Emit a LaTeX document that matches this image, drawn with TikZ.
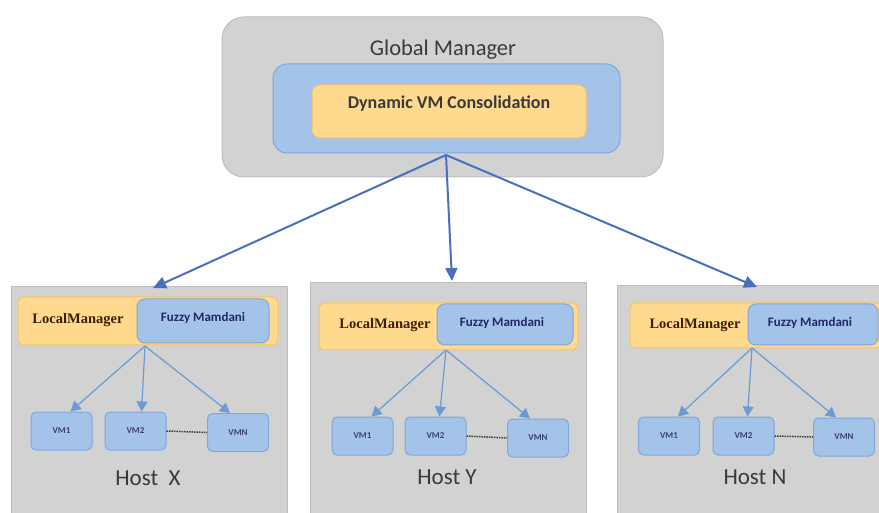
\documentclass[tikz,border=0pt]{standalone}
\usepackage{fontspec}
\setmainfont{Carlito}
\newfontfamily\lmserif{Liberation Serif}
\usetikzlibrary{arrows.meta}
\definecolor{grayfill}{HTML}{D2D2D2}
\definecolor{grayedge}{HTML}{BDBDBD}
\definecolor{bluefill}{HTML}{A3C3E9}
\definecolor{blueedge}{HTML}{7FA7D8}
\definecolor{orfill}{HTML}{FFD98E}
\definecolor{oredge}{HTML}{F2C46C}
\definecolor{mainarrow}{HTML}{4A6FC0}
\definecolor{subarrow}{HTML}{6A9BD4}
\definecolor{txt}{HTML}{3A3A3A}
\tikzset{
  graybox/.style={draw=grayedge, fill=grayfill, line width=1pt, inner sep=0pt},
  bluebox/.style={draw=blueedge, fill=bluefill, line width=1pt, inner sep=0pt, rounded corners=8pt},
  orbox/.style={draw=oredge, fill=orfill, line width=1pt, inner sep=0pt, rounded corners=6pt},
  vmbox/.style={draw=blueedge, fill=bluefill, line width=1pt, inner sep=0pt, rounded corners=5pt,
    minimum width=61pt, minimum height=38pt, font=\bfseries\fontsize{9}{9}\selectfont, text=blue!25!black!75},
  mainarr/.style={draw=mainarrow, line width=2pt, -{Triangle[length=13pt,width=12pt]}},
  subarr/.style={draw=subarrow, line width=1.2pt, -{Triangle[length=10pt,width=11pt]}},
  dots/.style={draw=txt, line width=1.5pt, dash pattern=on 1.5pt off 1pt},
  lmtext/.style={font=\lmserif\bfseries\fontsize{14.5}{14.5}\selectfont, text=black!60!orange!60!black},
  fztext/.style={font=\bfseries\fontsize{13}{13}\selectfont, text=blue!30!black!85},
  hosttext/.style={font=\fontsize{23}{23}\selectfont, text=txt},
}
\begin{document}
\begin{tikzpicture}[x=1pt,y=-1pt]
\useasboundingbox (0,0) rectangle (879,513);
\begin{scope}
\clip (0,0) rectangle (879,513);
% Global manager
\node[graybox, rounded corners=22pt, minimum width=441pt, minimum height=160pt] (gm) at (442.5,97) {};
\node[font=\fontsize{22.5}{22.5}\selectfont, text=txt] (gmt) at (443,50) {Global Manager};
\node[bluebox, rounded corners=14pt, minimum width=347pt, minimum height=89pt] (gmb) at (446.5,108.5) {};
\node[orbox, rounded corners=8pt, minimum width=274pt, minimum height=53pt] (dvc) at (449,111.5) {};
\node[font=\bfseries\fontsize{18}{18}\selectfont, text=txt] (dvct) at (449,104) {Dynamic VM Consolidation};
\coordinate (src) at (446,155);

% Hosts
\node[graybox, minimum width=276pt, minimum height=240pt] (hx) at (149,407) {};
\node[graybox, minimum width=276pt, minimum height=240pt] (hy) at (448,403) {};
\node[graybox, minimum width=268pt, minimum height=240pt] (hn) at (751,406) {};

% Host X
\node[orbox, minimum width=260pt, minimum height=48pt] (lmx) at (148,321) {};
\node[bluebox, minimum width=132pt, minimum height=44pt] (fzx) at (203,321) {};
\node[lmtext] (lmxt) at (78,320) {LocalManager};
\node[fztext] (fzxt) at (203,318) {Fuzzy Mamdani};
\node[vmbox] (x1) at (61.5,431) {VM1};
\node[vmbox] (x2) at (135.5,431) {VM2};
\node[vmbox] (x3) at (238,432.5) {VMN};
\coordinate (sx) at (145,346);
\draw[subarr] (sx) -- ([xshift=9pt]x1.north);
\draw[subarr] (sx) -- ([xshift=6pt]x2.north);
\draw[subarr] (sx) -- ([xshift=-8pt]x3.north);
\draw[dots] (x2.east) -- (x3.west);
\node[hosttext] (hxt) at (148,478) {Host\ \ X};

% Host Y
\node[orbox, minimum width=259pt, minimum height=47pt] (lmy) at (448.5,326.5) {};
\node[bluebox, minimum width=136pt, minimum height=41pt] (fzy) at (505,324.5) {};
\node[lmtext] (lmyt) at (385,325) {LocalManager};
\node[fztext] (fzyt) at (502,323) {Fuzzy Mamdani};
\node[vmbox] (y1) at (362.5,436) {VM1};
\node[vmbox] (y2) at (435.5,436) {VM2};
\node[vmbox] (y3) at (538,438) {VMN};
\coordinate (sy) at (446,350);
\draw[subarr] (sy) -- ([xshift=9pt]y1.north);
\draw[subarr] (sy) -- ([xshift=4pt]y2.north);
\draw[subarr] (sy) -- ([xshift=-8pt]y3.north);
\draw[dots] (y2.east) -- (y3.west);
\node[hosttext] (hyt) at (447,477) {Host Y};

% Host N
\node[orbox, minimum width=252pt, minimum height=45pt] (lmn) at (756,325.5) {};
\node[bluebox, minimum width=130pt, minimum height=41pt] (fzn) at (813,324.5) {};
\node[lmtext] (lmnt) at (695,325) {LocalManager};
\node[fztext] (fznt) at (810,323) {Fuzzy Mamdani};
\node[vmbox] (n1) at (669,436) {VM1};
\node[vmbox] (n2) at (743.5,436) {VM2};
\node[vmbox] (n3) at (844,437) {VMN};
\coordinate (sn) at (752,348);
\draw[subarr] (sn) -- ([xshift=9pt]n1.north);
\draw[subarr] (sn) -- ([xshift=4pt]n2.north);
\draw[subarr] (sn) -- ([xshift=-8pt]n3.north);
\draw[dots] (n2.east) -- (n3.west);
\node[hosttext] (hnt) at (755,477) {Host N};

% main arrows
\coordinate (tx) at (153,288);
\coordinate (ty) at (452,281);
\coordinate (tn) at (757,287);
\draw[mainarr] (src) -- (tx);
\draw[mainarr] (src) -- (ty);
\draw[mainarr] (src) -- (tn);
\end{scope}
\end{tikzpicture}
\end{document}
